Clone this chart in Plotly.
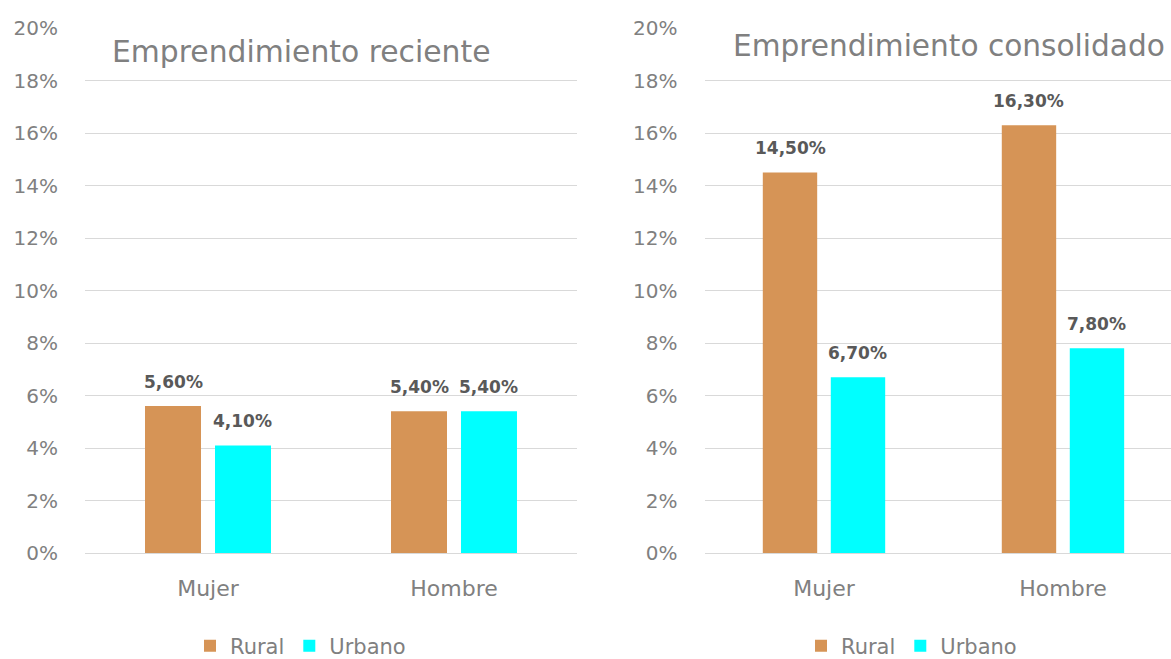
import plotly.graph_objects as go

# Data
categories = ["Mujer", "Hombre"]
reciente_rural = [5.6, 5.4]
reciente_urbano = [4.1, 5.4]
consolidado_rural = [14.5, 16.3]
consolidado_urbano = [6.7, 7.8]
panel_titles = ["Emprendimiento reciente", "Emprendimiento consolidado"]
series_names = ["Rural", "Urbano"]
y_ticks = [0, 2, 4, 6, 8, 10, 12, 14, 16, 18, 20]

W, H = 1171, 659
TOP, BOTTOM = 28, 553          # pixel rows of the 20% and 0% gridlines
FONT = "DejaVu Sans"
RURAL = "#D69456"
URBANO = "#00FFFF"
AXIS_TXT = "#808080"
LABEL_TXT = "#595959"
GRID = "#D9D9D9"

BARGAP = 0.431
SLOT = (1 - BARGAP) / 2

left_dom = (85 / W, 577 / W)
right_dom = (704.5 / W, 1.0)
right_range = [-0.5, 1.452]


def py(px):
    """pixel row -> paper y coordinate of the plotting area"""
    return (BOTTOM - px) / (BOTTOM - TOP)


fig = go.Figure()

panels = [
    ("x", "y", reciente_rural, reciente_urbano, "legend"),
    ("x2", "y2", consolidado_rural, consolidado_urbano, "legend2"),
]
for xa, ya, rural, urbano, leg in panels:
    for name, vals, col in [(series_names[0], rural, RURAL), (series_names[1], urbano, URBANO)]:
        fig.add_trace(go.Bar(
            x=categories, y=[v / 100 for v in vals], name=name,
            marker=dict(color=col, line=dict(width=0)),
            xaxis=xa, yaxis=ya, legend=leg, hoverinfo="skip",
        ))

# value labels above bars
annotations = []
for xa, ya, rural, urbano, _ in panels:
    for vals, off in [(rural, -SLOT / 2), (urbano, SLOT / 2)]:
        for ci, v in enumerate(vals):
            annotations.append(dict(
                x=ci + off, y=v / 100, xref=xa, yref=ya,
                text=f"{v:.2f}%".replace(".", ","), showarrow=False,
                yanchor="bottom", yshift=12,
                font=dict(family=FONT, size=17, color=LABEL_TXT, weight="bold"),
            ))

# panel titles
annotations.append(dict(x=110 / W, y=py(51), xref="paper", yref="paper",
                        xanchor="left", yanchor="middle", showarrow=False,
                        text=panel_titles[0],
                        font=dict(family=FONT, size=29.8, color=AXIS_TXT)))
annotations.append(dict(x=731 / W, y=py(46), xref="paper", yref="paper",
                        xanchor="left", yanchor="middle", showarrow=False,
                        text=panel_titles[1],
                        font=dict(family=FONT, size=29.6, color=AXIS_TXT)))

yaxis_common = dict(
    range=[0, 0.2], tickvals=[t / 100 for t in y_ticks],
    ticktext=[f"{t}%" for t in y_ticks],
    showgrid=True, gridcolor=GRID, gridwidth=1,
    zeroline=True, zerolinecolor=GRID, zerolinewidth=1,
    showline=False, ticks="", ticklabelstandoff=26,
    tickfont=dict(family=FONT, size=20, color=AXIS_TXT),
    fixedrange=True,
)
xaxis_common = dict(
    type="category", showgrid=False, showline=False, zeroline=False, ticks="",
    ticklabelstandoff=20,
    tickfont=dict(family=FONT, size=22, color=AXIS_TXT),
    fixedrange=True,
)

legend_common = dict(
    orientation="h", xanchor="left", yanchor="middle", yref="container",
    font=dict(family=FONT, size=21, color=AXIS_TXT),
    bgcolor="rgba(0,0,0,0)", itemclick=False, itemdoubleclick=False,
)

fig.update_layout(
    width=W, height=H,
    margin=dict(l=0, r=0, t=TOP, b=H - BOTTOM, autoexpand=False),
    paper_bgcolor="white", plot_bgcolor="white",
    barmode="group", bargap=BARGAP, bargroupgap=0.2,
    xaxis=dict(domain=list(left_dom), anchor="y", range=[-0.5, 1.5], **xaxis_common),
    yaxis=dict(domain=[0, 1], anchor="x", **yaxis_common),
    xaxis2=dict(domain=list(right_dom), anchor="y2", range=right_range, **xaxis_common),
    yaxis2=dict(domain=[0, 1], anchor="x2", **yaxis_common),
    legend=dict(x=190 / W, y=1 - 646 / H, **legend_common),
    legend2=dict(x=801 / W, y=1 - 646 / H, **legend_common),
    annotations=annotations,
    showlegend=True,
)

fig.write_html("out.html", config={"displayModeBar": False})
